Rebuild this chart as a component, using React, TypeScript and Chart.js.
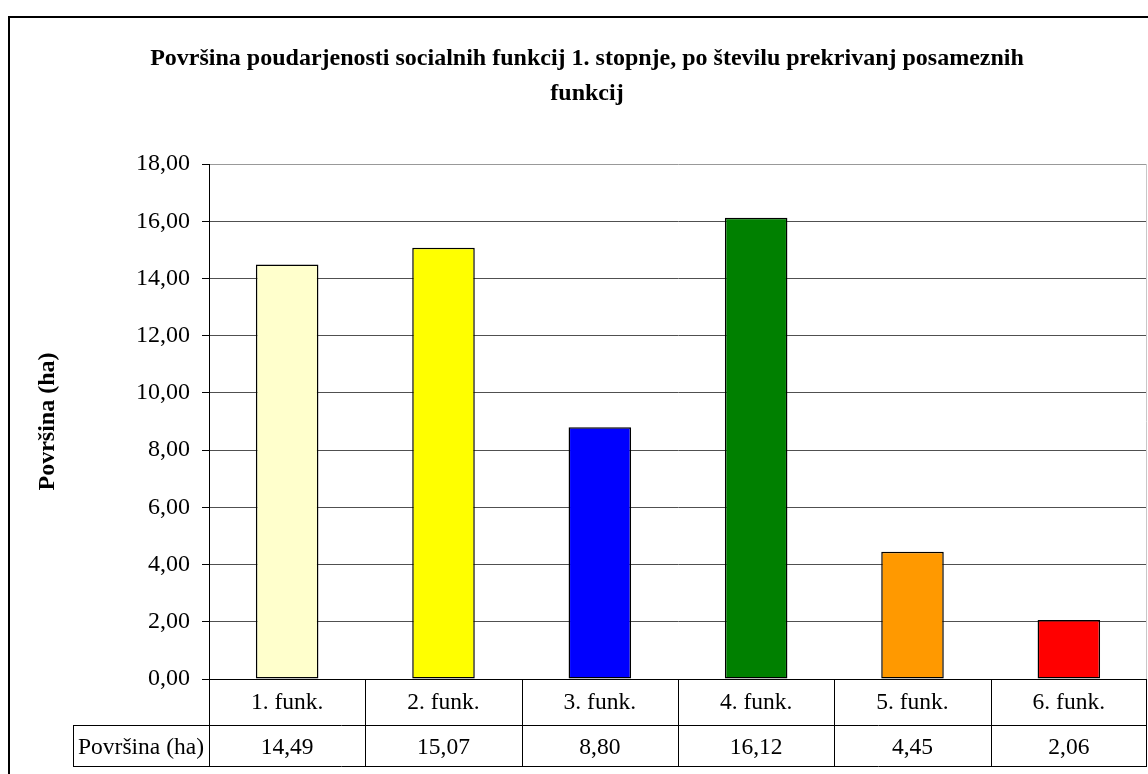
import React, { useEffect, useRef } from "react";
import { Chart, registerables } from "chart.js";

Chart.register(...registerables);

const titleLines = [
  "Površina poudarjenosti socialnih funkcij 1. stopnje, po številu prekrivanj posameznih",
  "funkcij",
];
const yAxisTitle = "Površina (ha)";
const seriesLabel = "Površina (ha)";
const categories = ["1. funk.", "2. funk.", "3. funk.", "4. funk.", "5. funk.", "6. funk."];
const values = [14.49, 15.07, 8.8, 16.12, 4.45, 2.06];
const barColors = ["#FFFFCC", "#FFFF00", "#0000FF", "#008000", "#FF9900", "#FF0000"];
const yMin = 0;
const yMax = 18;
const yStep = 2;

const FONT = "'Liberation Serif', 'Times New Roman', serif";
const fmt = (v: number) => v.toFixed(2).replace(".", ",");

const decorPlugin = {
  id: "decor",
  afterDraw(chart: any) {
    const ctx = chart.ctx as CanvasRenderingContext2D;
    const { left, right, top, bottom } = chart.chartArea;
    const xs = chart.scales.x;
    const n = categories.length;
    const colW = (right - left) / n;
    const row1 = bottom + 46;
    const row2 = row1 + 41;
    const labelLeft = 73;

    ctx.save();
    // outer frame
    ctx.strokeStyle = "#000";
    ctx.lineWidth = 2;
    ctx.beginPath();
    ctx.moveTo(9, 900);
    ctx.lineTo(9, 17);
    ctx.lineTo(1200, 17);
    ctx.stroke();

    // plot right border
    ctx.lineWidth = 1;
    ctx.strokeStyle = "#c8c8c8";
    ctx.beginPath();
    ctx.moveTo(right - 0.5, top);
    ctx.lineTo(right - 0.5, bottom);
    ctx.stroke();

    // title
    ctx.fillStyle = "#000";
    ctx.font = `bold 24px ${FONT}`;
    ctx.textAlign = "center";
    ctx.textBaseline = "alphabetic";
    ctx.fillText(titleLines[0], 587, 65);
    ctx.fillText(titleLines[1], 587, 100);

    // y axis title
    ctx.save();
    ctx.translate(48, (top + bottom) / 2);
    ctx.rotate(-Math.PI / 2);
    ctx.textBaseline = "middle";
    ctx.font = `bold 24px ${FONT}`;
    ctx.fillText(yAxisTitle, 0, 0);
    ctx.restore();

    // data table lines
    ctx.strokeStyle = "#000";
    ctx.lineWidth = 1;
    ctx.beginPath();
    ctx.moveTo(left, bottom + 0.5);
    ctx.lineTo(right, bottom + 0.5);
    ctx.moveTo(labelLeft, row1 + 0.5);
    ctx.lineTo(right, row1 + 0.5);
    ctx.moveTo(labelLeft, row2 + 0.5);
    ctx.lineTo(right, row2 + 0.5);
    ctx.moveTo(labelLeft + 0.5, row1);
    ctx.lineTo(labelLeft + 0.5, row2);
    for (let i = 0; i <= n; i++) {
      const x = Math.round(left + i * colW) - (i === n ? 0.5 : -0.5);
      ctx.moveTo(x, bottom);
      ctx.lineTo(x, row2);
    }
    ctx.stroke();

    // table text
    ctx.font = `23.5px ${FONT}`;
    ctx.textAlign = "center";
    ctx.textBaseline = "middle";
    for (let i = 0; i < n; i++) {
      const cx = xs.getPixelForValue(i);
      ctx.fillText(categories[i], cx, (bottom + row1) / 2 + 1);
      ctx.fillText(fmt(values[i]), cx, (row1 + row2) / 2 + 2);
    }
    ctx.fillText(seriesLabel, (labelLeft + left) / 2, (row1 + row2) / 2 + 2);
    ctx.restore();
  },
};

export default function App() {
  const ref = useRef<HTMLCanvasElement>(null);
  useEffect(() => {
    if (!ref.current) return;
    const chart = new Chart(ref.current, {
      type: "bar",
      data: {
        labels: categories,
        datasets: [
          {
            label: seriesLabel,
            data: values,
            backgroundColor: barColors,
            borderColor: "#000",
            borderWidth: 1.5,
            borderSkipped: false,
            barPercentage: 0.4,
            categoryPercentage: 1,
          },
        ],
      },
      options: {
        responsive: false,
        animation: false,
        layout: { padding: { left: 0, right: 1, top: 164, bottom: 95 } },
        plugins: { legend: { display: false }, title: { display: false }, tooltip: { enabled: false } },
        scales: {
          x: { display: false, offset: true, grid: { offset: true } },
          y: {
            min: yMin,
            max: yMax,
            afterFit: (s: any) => {
              s.width = 209;
            },
            ticks: {
              stepSize: yStep,
              padding: 12,
              color: "#000",
              font: { family: FONT, size: 24 },
              callback: (v: any) => fmt(Number(v)),
            },
            grid: {
              color: (c: any) => (c.tick && c.tick.value === yMax ? "#999999" : c.tick && c.tick.value === 0 ? "#000" : "#505050"),
              tickColor: "#000",
              tickLength: 7,
              drawTicks: true,
            },
            border: { display: true, color: "#000", width: 1 },
          },
        },
      },
      plugins: [decorPlugin],
    });
    return () => chart.destroy();
  }, []);
  return (
    <div style={{ position: "absolute", left: 0, top: 0, width: 1148, height: 774, background: "#fff" }}>
      <canvas ref={ref} width={1148} height={774} />
    </div>
  );
}
